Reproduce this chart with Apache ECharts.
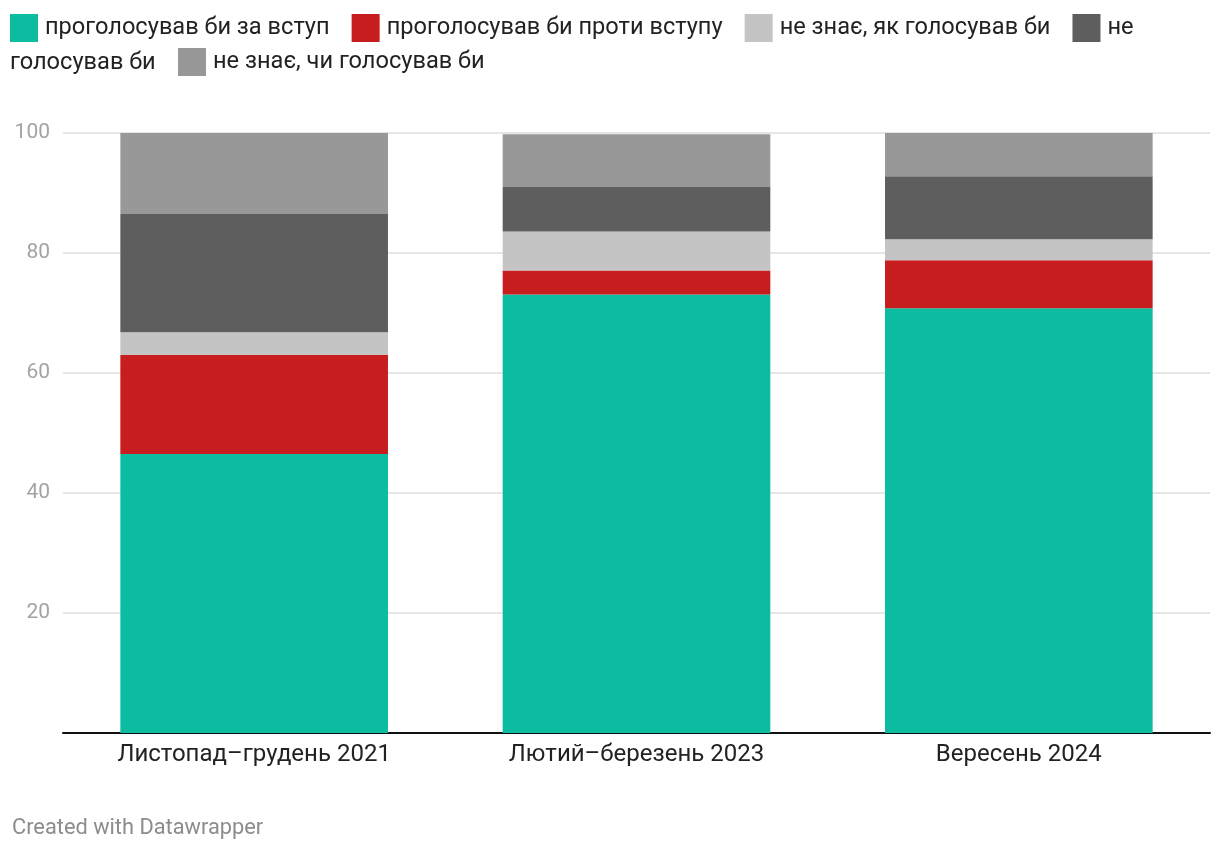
<!DOCTYPE html>
<html>
<head>
<meta charset="utf-8">
<script src="https://cdn.jsdelivr.net/npm/echarts@6/dist/echarts.min.js"></script>
<style>
html,body{margin:0;padding:0;background:#fff;}
#chart{width:1220px;height:854px;}
</style>
</head>
<body>
<div id="chart"></div>
<script>
const categories = ['Листопад–грудень 2021', 'Лютий–березень 2023', 'Вересень 2024'];
const seriesNames = ['проголосував би за вступ', 'проголосував би проти вступу', 'не знає, як голосував би', 'не голосував би', 'не знає, чи голосував би'];
const forJoin = [46.5, 73.1, 70.8];
const againstJoin = [16.5, 4.0, 8.0];
const dontKnowHow = [3.8, 6.5, 3.5];
const wouldNotVote = [19.7, 7.4, 10.5];
const dontKnowIfVote = [13.5, 8.8, 7.2];
const yTicks = [0, 20, 40, 60, 80, 100];
const colors = ['#0bbca0', '#c71d1e', '#c4c4c4', '#5e5e5e', '#989898'];

const values = [forJoin, againstJoin, dontKnowHow, wouldNotVote, dontKnowIfVote];
const font = 'Roboto, "Noto Sans", sans-serif';
const legendText = { fontSize: 23.6, color: '#222', fontFamily: font, padding: [0, 0, 0, 2] };

const chart = echarts.init(document.getElementById('chart'));
chart.setOption({
  animation: false,
  color: colors,
  textStyle: { fontFamily: font },
  legend: [
    {
      data: seriesNames.slice(0, 4),
      left: 10, top: 14, padding: 0,
      itemWidth: 28, itemHeight: 28, itemGap: 22,
      icon: 'rect',
      selectedMode: false,
      formatter: function (n) { return n === 'не голосував би' ? 'не' : n; },
      textStyle: legendText
    },
    {
      data: seriesNames.slice(4),
      left: 178, top: 48, padding: 0,
      itemWidth: 28, itemHeight: 28,
      icon: 'rect',
      selectedMode: false,
      textStyle: legendText
    }
  ],
  graphic: [
    { type: 'text', left: 10, top: 51, style: { text: 'голосував би', fontSize: 23.6, fill: '#222', fontFamily: font } },
    { type: 'text', left: 12, top: 818, style: { text: 'Created with Datawrapper', fontSize: 21.8, fill: '#8c8c8c', fontFamily: font } }
  ],
  grid: { left: 63, right: 10, top: 133, bottom: 121, containLabel: false },
  xAxis: {
    type: 'category',
    data: categories,
    axisLine: { lineStyle: { color: '#111', width: 2 } },
    axisTick: { show: false },
    axisLabel: { fontSize: 24, color: '#222', margin: 10, fontFamily: font }
  },
  yAxis: {
    type: 'value',
    min: yTicks[0], max: yTicks[yTicks.length - 1], interval: 20,
    axisLine: { show: false },
    axisTick: { show: false },
    splitLine: { lineStyle: { color: '#e6e6e6', width: 2 } },
    axisLabel: {
      fontSize: 21, color: '#a3a3a3', margin: 13, fontFamily: font,
      formatter: function (v) { return v === 0 ? '' : String(v); }
    }
  },
  series: seriesNames.map(function (name, i) {
    return {
      name: name,
      type: 'bar',
      stack: 'total',
      barWidth: '70%',
      data: values[i],
      itemStyle: { color: colors[i] }
    };
  })
});
</script>
</body>
</html>
